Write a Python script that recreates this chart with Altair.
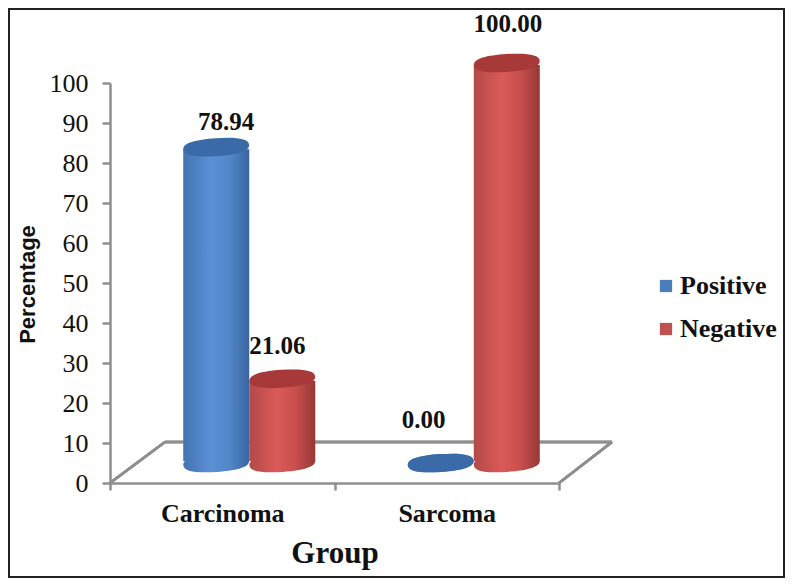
import altair as alt
import pandas as pd

groups = ["Carcinoma", "Sarcoma"]
series = ["Positive", "Negative"]
positive = [78.94, 0.00]
negative = [21.06, 100.00]
y_ticks = list(range(0, 101, 10))
labels_text = {"Positive": ["78.94", "0.00"], "Negative": ["21.06", "100.00"]}

rows = []
for i, g in enumerate(groups):
    rows.append({"group": g, "series": "Positive", "value": positive[i], "label": labels_text["Positive"][i]})
    rows.append({"group": g, "series": "Negative", "value": negative[i], "label": labels_text["Negative"][i]})
df = pd.DataFrame(rows)

SERIF = "Liberation Serif"
SANS = "Liberation Sans"
GREY = "#8f8f8f"
INK = "#111111"
FLAT = ["#4a7ebb", "#c0504d"]
TOP = {"Positive": "#3a6ba8", "Negative": "#a73a38"}
GRAD = {
    "Positive": [("#4474b0", 0), ("#5b90d6", 0.42), ("#5286c8", 0.7), ("#3a66a2", 1)],
    "Negative": [("#b24a48", 0), ("#da5a58", 0.42), ("#c84f4d", 0.7), ("#963836", 1)],
}
ELLIPSE = "M-1,0 C-1,-0.2 -0.6,-0.27 0,-0.27 C0.6,-0.27 1,-0.2 1,0 C1,0.2 0.6,0.27 0,0.27 C-0.6,0.27 -1,0.2 -1,0 Z"

# the plot area starts at (110, 83) on the page; the canvas starts at (8, 8)
ox, oy = 102, 75
W, H = 449, 400
DX = 27       # sideways depth shift of the cylinders, pixels
LIFT = 5      # upward depth shift of the cylinders, in axis units
INSET = 0.5   # body ends sit this far inside the end caps, in axis units
CANVAS_W, CANVAS_H = 777, 570

x = alt.X(
    "group:N",
    scale=alt.Scale(domain=groups, paddingInner=0, paddingOuter=0),
    axis=alt.Axis(
        title="Group", titleFont=SERIF, titleFontSize=31, titleFontWeight="bold", titleColor=INK,
        titlePadding=12, labelAngle=0, labelFont=SERIF, labelFontSize=26, labelFontWeight="bold",
        labelColor=INK, labelPadding=10, tickBand="extent", tickSize=7, tickColor=GREY, tickWidth=2.5,
        domainColor=GREY, domainWidth=2.5, grid=False,
    ),
)
xo = alt.XOffset(
    "series:N",
    scale=alt.Scale(domain=series, range=[DX, DX + W / 2], paddingInner=0, paddingOuter=0.7),
)
y_axis = alt.Axis(
    values=y_ticks, title="Percentage", titleFont=SANS, titleFontSize=22, titleFontWeight="bold",
    titleColor=INK, titleX=-71, titleY=201, labelFont=SERIF, labelFontSize=26, labelColor=INK,
    labelPadding=14, tickSize=8, tickColor=GREY, tickWidth=2.5, domainColor=GREY, domainWidth=2.5,
    grid=False,
)
y_scale = alt.Scale(domain=[0, 100])

def ya(field):
    return alt.Y(field, stack=None, scale=y_scale, axis=y_axis)

def gradient(name):
    return alt.Gradient(
        gradient="linear", x1=0, y1=0, x2=1, y2=0,
        stops=[alt.GradientStop(color=c, offset=o) for c, o in GRAD[name]],
    )

def px(v):
    return alt.value(v - ox - 8)

def py(v):
    return alt.value(v - oy - 8)

frame = alt.Chart(df).mark_rect(fill="transparent", stroke="#222222", strokeWidth=2, clip=False).encode(
    x=alt.value(1 - ox), x2=alt.value(CANVAS_W - 1 - ox), y=alt.value(1 - oy), y2=alt.value(CANVAS_H - 1 - oy)
)

floor = [
    alt.Chart(df).mark_rule(color=GREY, strokeWidth=2.5).encode(x=px(a), x2=px(c), y=py(b), y2=py(d))
    for a, b, c, d in [(165, 442, 612, 442), (110, 483, 165, 442), (559, 483, 612, 442)]
]

base = alt.Chart(df).transform_calculate(
    top=f"datum.value + {LIFT}",
    foot=f"{LIFT}",
    body_top=f"max(datum.value + {LIFT} - {INSET}, {LIFT} + {INSET})",
    body_foot=f"{LIFT} + {INSET}",
).encode(x=x, xOffset=xo)

legend_layer = base.mark_bar(opacity=0).encode(
    y=ya("top:Q"),
    y2=alt.Y2("foot:Q"),
    color=alt.Color(
        "series:N",
        scale=alt.Scale(domain=series, range=FLAT),
        legend=alt.Legend(
            title=None, orient="none", legendX=653 - 110, legendY=273 - 83, symbolType="square", symbolSize=150,
            symbolStrokeWidth=0, labelFont=SERIF, labelFontSize=26, labelFontWeight="bold", labelColor=INK,
            rowPadding=17, labelOffset=1,
        ),
    ),
)

cyl = []
for name in series:
    part = base.transform_filter(alt.datum.series == name)
    cyl.append(part.mark_point(shape=ELLIPSE, size=4356, filled=True, opacity=1, fill=gradient(name), angle=356)
               .encode(y=ya("foot:Q")))
    cyl.append(part.mark_bar(fill=gradient(name)).encode(y=ya("body_top:Q"), y2=alt.Y2("body_foot:Q")))
    cyl.append(part.mark_point(shape=ELLIPSE, size=4356, filled=True, opacity=1, fill=TOP[name], angle=356)
               .encode(y=ya("top:Q")))

label_offsets = {
    ("Carcinoma", "Positive"): (10, -45),
    ("Carcinoma", "Negative"): (-5, -53),
    ("Sarcoma", "Positive"): (-17, -63),
    ("Sarcoma", "Negative"): (1, -59),
}
texts = []
for (g, s), (dx, dy) in label_offsets.items():
    texts.append(
        alt.Chart(df).encode(x=x, xOffset=xo, y=ya("value:Q"), text="label:N")
        .transform_filter((alt.datum.group == g) & (alt.datum.series == s))
        .mark_text(font=SERIF, fontSize=25, fontWeight="bold", color=INK, dx=dx, dy=dy, baseline="middle")
    )

chart = alt.layer(frame, *floor, legend_layer, *cyl, *texts).properties(
    width=W, height=H,
    padding={"left": ox, "top": oy, "right": CANVAS_W - ox - W, "bottom": CANVAS_H - oy - H},
    autosize=alt.AutoSizeParams(type="none"),
).configure_view(stroke=None).configure_axis(labelFlush=False)

chart.save("out.html", embed_options={"renderer": "svg", "actions": False})
